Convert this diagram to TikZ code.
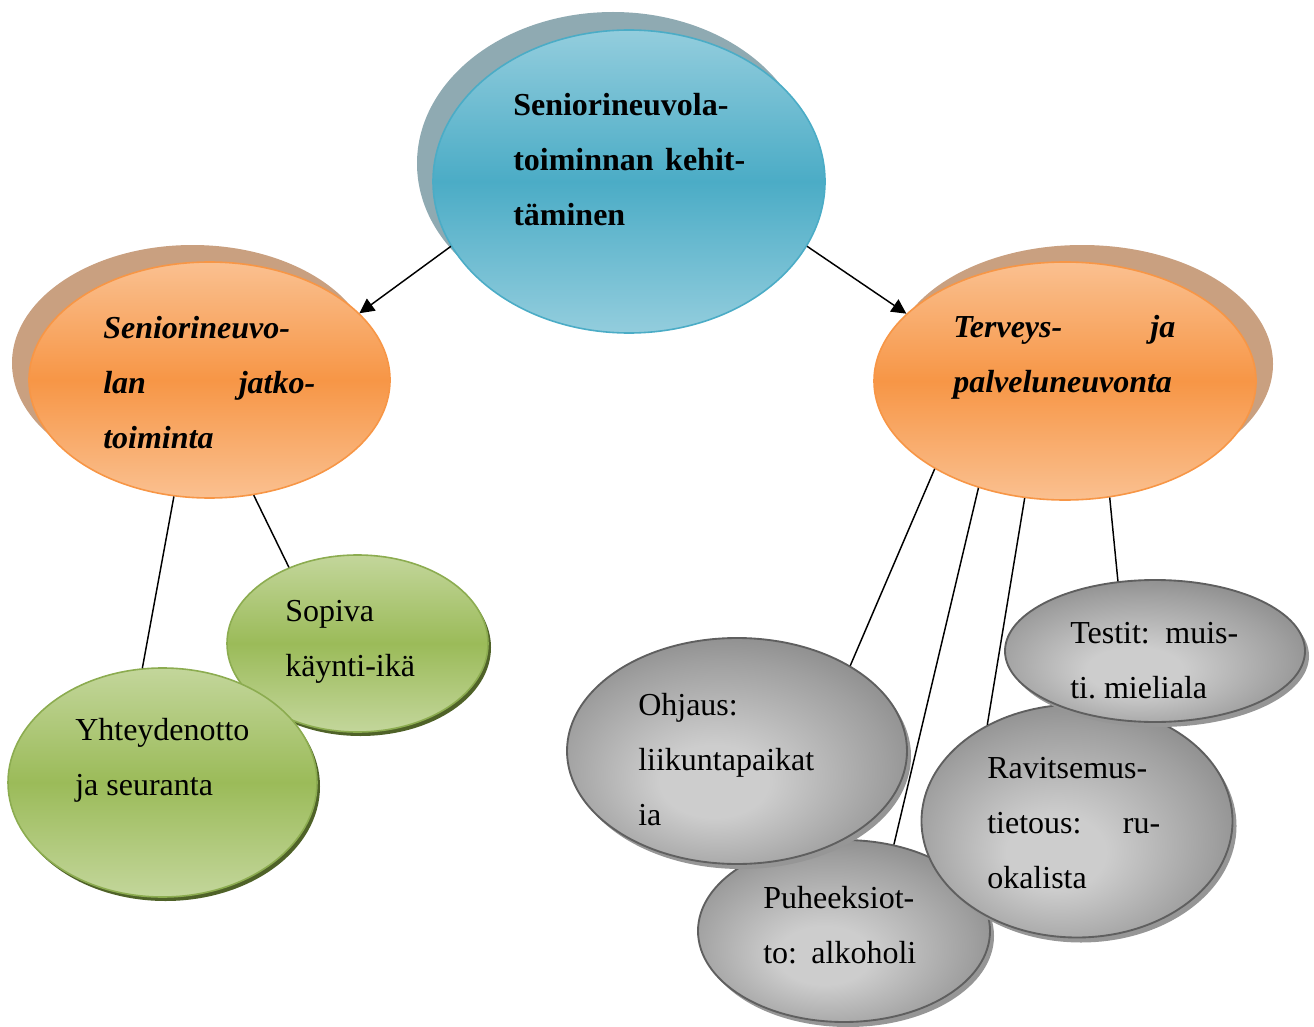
\documentclass[tikz,border=0pt]{standalone}
\usepackage{fontspec}
\setmainfont{Liberation Serif}
\usetikzlibrary{shapes.geometric,shadows,arrows.meta}

\definecolor{bluelight}{RGB}{147,205,221}
\definecolor{bluemid}{RGB}{75,172,198}
\definecolor{blueshadow}{RGB}{143,170,178}
\definecolor{orangelight}{RGB}{250,192,144}
\definecolor{orangemid}{RGB}{247,150,70}
\definecolor{orangeshadow}{RGB}{201,160,128}
\definecolor{greenlight}{RGB}{195,214,155}
\definecolor{greenmid}{RGB}{155,187,89}
\definecolor{greenline}{RGB}{140,172,80}
\definecolor{greenshadow}{RGB}{79,98,40}
\definecolor{graylight}{RGB}{205,205,205}
\definecolor{graymid}{RGB}{160,160,160}
\definecolor{graydark}{RGB}{115,115,115}
\definecolor{grayline}{RGB}{95,95,95}
\definecolor{grayshadow}{RGB}{150,150,150}

\pgfdeclareradialshading{grayoval}{\pgfpoint{-4bp}{-8bp}}{color(0bp)=(graylight); color(8bp)=(graylight); color(24bp)=(graymid); color(38bp)=(graydark); color(50bp)=(graydark)}

\tikzset{
  oval size/.style 2 args={minimum width=#1*0.75pt, minimum height=#2*0.75pt},
  oval/.style={ellipse, inner sep=0pt, line width=1.2pt},
  blueoval/.style={oval, draw=bluemid, top color=bluelight, bottom color=bluelight, middle color=bluemid,
    general shadow={fill=blueshadow, shadow xshift=-12pt, shadow yshift=13.5pt}},
  orangeoval/.style={oval, draw=orangemid, top color=orangelight, bottom color=orangelight, middle color=orangemid},
  leftoval/.style={orangeoval,
    general shadow={fill=orangeshadow, shadow xshift=-12.75pt, shadow yshift=12.75pt}},
  rightoval/.style={orangeoval,
    general shadow={fill=orangeshadow, shadow xshift=12.75pt, shadow yshift=12.75pt}},
  greenoval/.style={oval, draw=greenline, top color=greenlight, bottom color=greenlight, middle color=greenmid,
    general shadow={fill=greenshadow, shadow xshift=2.25pt, shadow yshift=-3pt}},
  grayoval/.style={oval, draw=grayline, line width=1.4pt, shading=grayoval,
    general shadow={fill=grayshadow, shadow xshift=3pt, shadow yshift=-3.75pt}},
  txt/.style={anchor=north west, inner sep=0pt, align=left, font=\fontsize{24}{41.25}\selectfont},
  boldtxt/.style={txt, font=\fontsize{24}{41.25}\selectfont\bfseries},
  italtxt/.style={txt, font=\fontsize{24}{41.25}\selectfont\bfseries\itshape},
  link/.style={line width=1.1pt},
  linkarrow/.style={link, -{Triangle[length=11pt,width=11pt]}}
}

\begin{document}
\begin{tikzpicture}[x=0.75pt, y=-0.75pt]
  \useasboundingbox (0,0) rectangle (1314,1027);

  % top
  \node[blueoval, oval size={392}{303}] (blue) at (629,181.5) {};
  \node[boldtxt] (blue-text) at (513,76.5) {\strut Seniorineuvola-\\ \makebox[174pt][s]{toiminnan kehit-}\\ täminen};

  % left branch
  \node[leftoval, oval size={361}{236}] (left) at (209.5,380) {};
  \node[italtxt] (left-text) at (103,299.5) {\strut Seniorineuvo-\\ \makebox[159pt][s]{lan jatko-}\\ toiminta};

  \node[greenoval, oval size={261}{177}] (age) at (357.5,643.5) {};
  \node[txt] (age-text) at (285,582.5) {\strut Sopiva\\ käynti-ikä};

  \node[greenoval, oval size={309}{229}] (contact) at (162.5,782.5) {};
  \node[txt] (contact-text) at (75,701.5) {\strut Yhteydenotto\\ ja seuranta};

  % right branch
  \node[rightoval, oval size={382}{238}] (right) at (1065,381) {};
  \node[italtxt] (right-text) at (953,298.5) {\strut \makebox[166.5pt][s]{Terveys- ja}\\ palveluneuvonta};

  \node[grayoval, oval size={292}{182}] (alcohol) at (844,931) {};
  \node[txt] (alcohol-text) at (763,869.5) {\strut Puheeksiot-\\ \makebox[114.75pt][s]{to: alkoholi}};

  \node[grayoval, oval size={340}{226}] (sport) at (737,751) {};
  \node[txt] (sport-text) at (638,676.5) {\strut Ohjaus:\\ liikuntapaikat\\ ia};

  \node[grayoval, oval size={311}{233}] (food) at (1077,821) {};
  \node[txt] (food-text) at (987,739.5) {\strut Ravitsemus-\\ \makebox[129.75pt][s]{tietous: ru-}\\ okalista};

  \node[grayoval, oval size={300}{142}] (tests) at (1155,651) {};
  \node[txt] (tests-text) at (1070,604.5) {\strut \makebox[126pt][s]{Testit: muis-}\\ ti.\ mieliala};

  % connectors
  \draw[linkarrow] (blue.200) -- (left.24);
  \draw[linkarrow] (blue.340) -- (right.157);

  \draw[link] (left.253) -- (contact.100);
  \draw[link] (left.291) -- (age.132);

  \draw[link] (right.214) -- (sport.37);
  \draw[link] (right.231) -- (alcohol.60);
  \draw[link] (right.251) -- (food.133);
  \draw[link] (right.291) -- (tests.118);
\end{tikzpicture}
\end{document}
